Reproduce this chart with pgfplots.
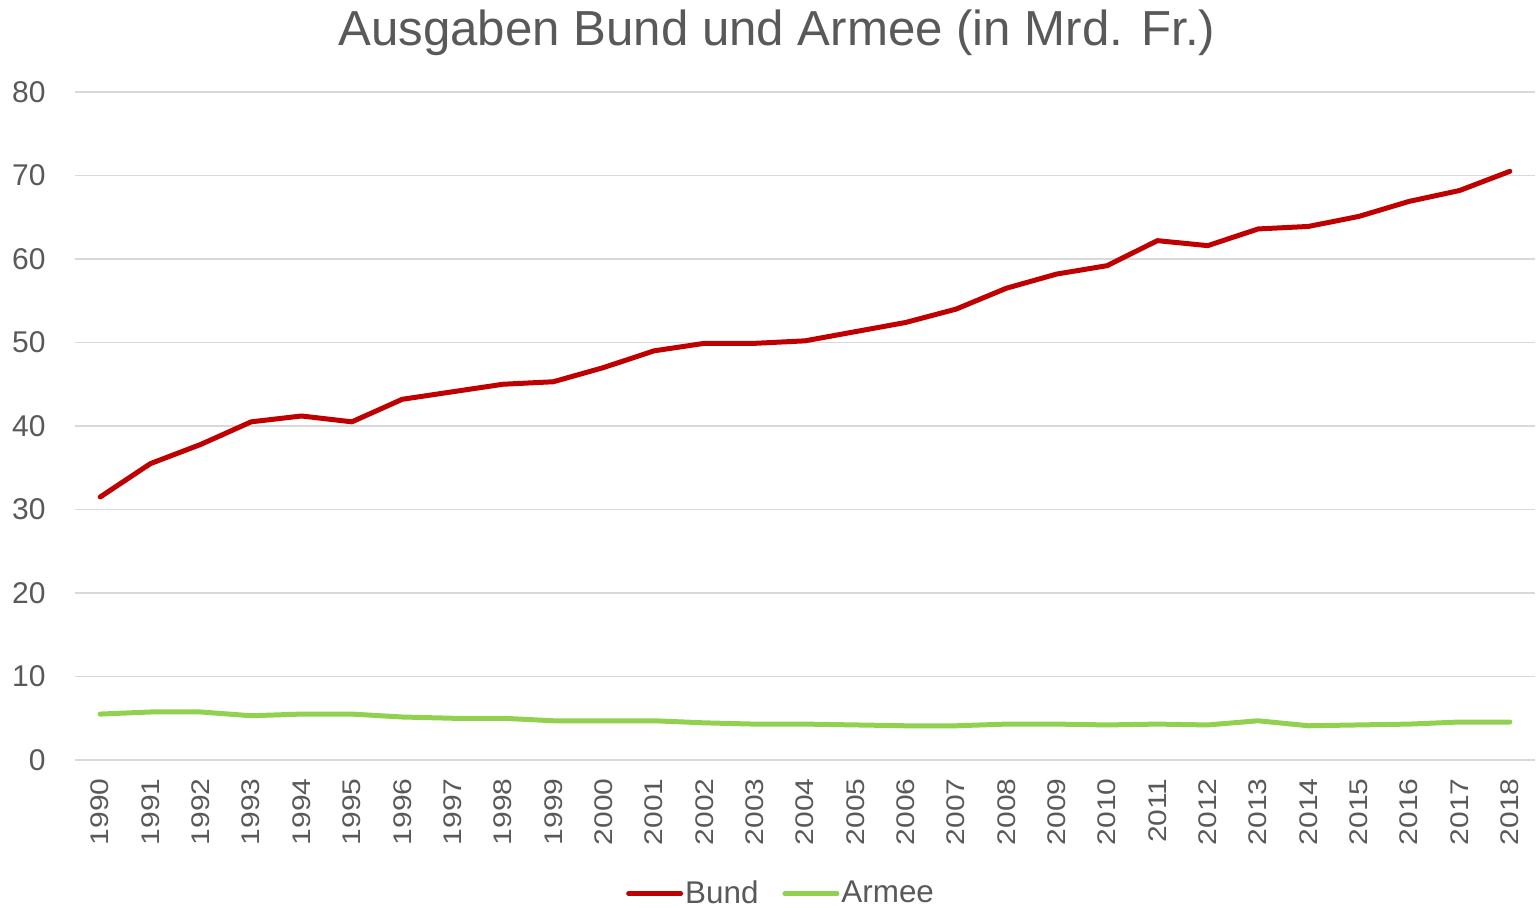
\documentclass[border=0pt]{standalone}
\usepackage{fontspec}
\setmainfont{Liberation Sans}
\usepackage{pgfplots}
\pgfplotsset{compat=1.18}
\definecolor{bund}{RGB}{192,0,0}
\definecolor{armee}{RGB}{146,208,80}
\definecolor{txt}{RGB}{89,89,89}
\definecolor{gridc}{RGB}{217,217,217}
\begin{document}
\begin{tikzpicture}
\useasboundingbox (-37.5pt,-73.5pt) rectangle (730.5pt,380pt);
\begin{axis}[
  scale only axis, width=730pt, height=334pt,
  xmin=-0.5, xmax=28.5, ymin=0, ymax=80,
  xtick={0,1,...,28},
  xticklabels={1990,1991,1992,1993,1994,1995,1996,1997,1998,1999,2000,2001,2002,2003,2004,2005,2006,2007,2008,2009,2010,2011,2012,2013,2014,2015,2016,2017,2018},
  ytick={0,10,...,80},
  ymajorgrids, grid style={gridc, line width=0.75pt},
  axis line style={draw=none}, tick style={draw=none},
  /pgf/number format/assume math mode=true,
  ticklabel style={font=\fontsize{15}{18}\selectfont, text=txt, inner sep=0pt},
  xticklabel style={rotate=90, anchor=east, xshift=-9pt, yscale=0.85},
  yticklabel style={anchor=east, xshift=-14.5pt},
  title={Ausgaben Bund und Armee (in Mrd. Fr.)},
  title style={at={(0.4808,1)}, anchor=base, yshift=17.5pt, font=\fontsize{24.6}{28}\selectfont, text=txt, inner sep=0pt},
  legend columns=2,
  legend style={at={(0.4836,-0.2)}, anchor=center, draw=none, font=\fontsize{15.7}{18}\selectfont, text=txt, inner sep=0pt,
    nodes={inner sep=1pt},
    /tikz/every even column/.append style={column sep=11pt}},
  legend image code/.code={\draw[#1, line width=2.5pt, line cap=round] (0pt,0pt) -- (26pt,0pt);},
]
\addplot[bund, line width=2.5pt, line join=round, line cap=round] coordinates {
(0,31.5) (1,35.5) (2,37.8) (3,40.5) (4,41.2) (5,40.5) (6,43.2) (7,44.1) (8,45.0) (9,45.3)
(10,47.0) (11,49.0) (12,49.9) (13,49.9) (14,50.2) (15,51.3) (16,52.4) (17,54.0) (18,56.5) (19,58.2)
(20,59.2) (21,62.2) (22,61.6) (23,63.6) (24,63.9) (25,65.1) (26,66.9) (27,68.2) (28,70.5)};
\addlegendentry{Bund}
\addplot[armee, line width=2.5pt, line join=round, line cap=round] coordinates {
(0,5.5) (1,5.75) (2,5.75) (3,5.3) (4,5.5) (5,5.5) (6,5.15) (7,5.0) (8,5.0) (9,4.7)
(10,4.7) (11,4.7) (12,4.45) (13,4.3) (14,4.3) (15,4.2) (16,4.1) (17,4.1) (18,4.3) (19,4.3)
(20,4.2) (21,4.3) (22,4.2) (23,4.7) (24,4.1) (25,4.2) (26,4.3) (27,4.55) (28,4.55)};
\addlegendentry{Armee}
\end{axis}
\end{tikzpicture}
\end{document}
